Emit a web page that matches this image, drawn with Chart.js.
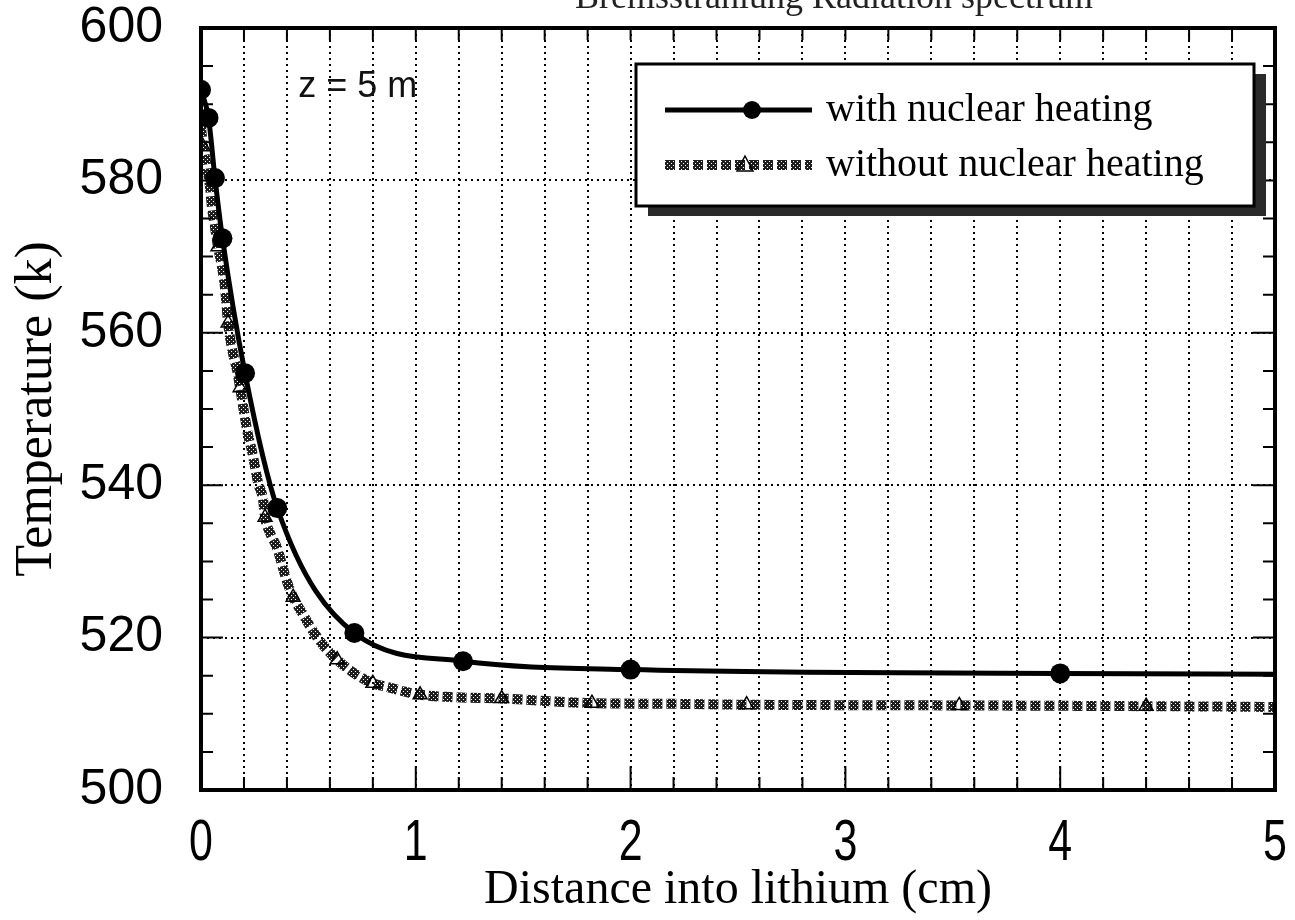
<!DOCTYPE html>
<html>
<head>
<meta charset="utf-8">
<script src="https://cdn.jsdelivr.net/npm/chart.js@4.4.1/dist/chart.umd.min.js"></script>
<style>
  html, body { margin: 0; padding: 0; background: #fff; }
  #wrap { position: relative; width: 1295px; height: 920px; overflow: hidden; }
  #topnote { position: absolute; left: 575px; top: -22px; font: 36px 'Liberation Serif', serif; line-height: 36px; color: #222; white-space: nowrap; z-index: 2; }
</style>
</head>
<body>
<div id="wrap">
  <div id="topnote">Bremsstrahlung Radiation spectrum</div>
  <canvas id="tempChart"></canvas>
</div>
<script>
// with nuclear heating (solid line, filled circles)
const withX = [0, 0.035, 0.065, 0.1, 0.205, 0.355, 0.714, 1.22, 2.0, 4.0, 5.0];
const withT = [591.9, 588.2, 580.3, 572.4, 554.7, 537.0, 520.6, 516.9, 515.8, 515.3, 515.2];

// without nuclear heating (hatched squares)
const withoutX = [0, 0.01, 0.028, 0.042, 0.051, 0.065, 0.079, 0.098, 0.112, 0.126, 0.149, 0.168, 0.182,
  0.205, 0.219, 0.238, 0.252, 0.266, 0.289, 0.298, 0.322, 0.354, 0.378, 0.401, 0.429, 0.476, 0.518,
  0.569, 0.634, 0.704, 0.80, 0.87, 0.95, 1.02, 1.16, 1.40, 1.82, 2.23, 2.5, 3.5, 4.4, 5.0];
const withoutT = [587.0, 584.4, 581.8, 579.1, 576.5, 573.9, 571.3, 568.6, 565.9, 561.3, 557.3, 555.1, 552.8,
  548.8, 546.6, 544.4, 542.3, 540.3, 538.1, 535.8, 533.7, 531.8, 529.5, 527.3, 525.3, 523.0, 521.0,
  519.0, 517.1, 515.5, 514.0, 513.5, 512.9, 512.5, 512.2, 512.0, 511.4, 511.3, 511.2, 511.1, 511.0, 510.9];

// the open triangles scattered along the "without" curve
const triX = [0.01, 0.079, 0.126, 0.182, 0.298, 0.429, 0.634, 0.80, 1.02, 1.40, 1.82, 2.54, 3.53, 4.40];
const triT = [584.4, 571.3, 561.3, 552.8, 535.8, 525.3, 517.1, 514.0, 512.5, 512.0, 511.4, 511.2, 511.1, 511.0];

const xTickStep = 0.2;
const yTickStep = 5;
const yLabelEvery = 20;

function hatch() {
  const c = document.createElement('canvas');
  c.width = 4; c.height = 4;
  const g = c.getContext('2d');
  g.fillStyle = '#1e1e1e';
  g.fillRect(0, 0, 4, 4);
  g.fillStyle = '#fff';
  g.fillRect(1, 1, 1, 1);
  g.fillRect(3, 3, 1, 1);
  return g.createPattern(c, 'repeat');
}
const hatchPattern = hatch();

const pts = (xs, ys) => xs.map((x, i) => ({ x: x, y: ys[i] }));
const isInt = v => Math.abs(v - Math.round(v)) < 1e-6;

// frame, inward tick marks, x tick labels (narrow), annotation
const frame = {
  id: 'frame',
  afterDatasetsDraw(chart) {
    const { ctx, chartArea: a, scales } = chart;
    ctx.save();
    ctx.strokeStyle = '#000';
    ctx.lineWidth = 2;
    ctx.beginPath();
    scales.y.ticks.forEach(t => {
      const py = scales.y.getPixelForValue(t.value);
      const len = t.value % yLabelEvery === 0 ? 22 : 12;
      ctx.moveTo(a.left, py); ctx.lineTo(a.left + len, py);
      ctx.moveTo(a.right, py); ctx.lineTo(a.right - len, py);
    });
    scales.x.ticks.forEach(t => {
      const px = scales.x.getPixelForValue(t.value);
      ctx.moveTo(px, a.bottom); ctx.lineTo(px, a.bottom - (isInt(t.value) ? 24 : 13));
      ctx.moveTo(px, a.top); ctx.lineTo(px, a.top + 12);
    });
    ctx.stroke();
    ctx.lineWidth = 4;
    ctx.strokeRect(a.left, a.top, a.right - a.left, a.bottom - a.top);

    ctx.fillStyle = '#000';
    ctx.font = "58px 'Liberation Sans', Arial, sans-serif";
    ctx.textAlign = 'center';
    ctx.textBaseline = 'middle';
    scales.x.ticks.forEach(t => {
      if (!isInt(t.value)) return;
      ctx.save();
      ctx.translate(scales.x.getPixelForValue(t.value), a.bottom + 54);
      ctx.scale(0.74, 1);
      ctx.fillText(String(Math.round(t.value)), 0, 0);
      ctx.restore();
    });

    ctx.fillStyle = '#111';
    ctx.font = "36px 'Liberation Sans', Arial, sans-serif";
    ctx.fillText('z = 5 m', scales.x.getPixelForValue(0.73), scales.y.getPixelForValue(592.3));
    ctx.restore();
  }
};

// boxed legend with drop shadow
const legendBox = {
  id: 'legendBox',
  afterDraw(chart) {
    const ctx = chart.ctx;
    const x = 636, y = 64, w = 618, h = 142;
    ctx.save();
    ctx.fillStyle = '#2a2a2a';
    ctx.fillRect(x + 12, y + 10, w, h);
    ctx.fillStyle = '#fff';
    ctx.fillRect(x, y, w, h);
    ctx.lineWidth = 3;
    ctx.strokeStyle = '#000';
    ctx.strokeRect(x, y, w, h);

    const y1 = y + 46, y2 = y + 101;
    ctx.lineWidth = 5;
    ctx.beginPath(); ctx.moveTo(x + 29, y1); ctx.lineTo(x + 176, y1); ctx.stroke();
    ctx.fillStyle = '#000';
    ctx.beginPath(); ctx.arc(x + 116, y1, 9, 0, Math.PI * 2); ctx.fill();

    ctx.strokeStyle = hatchPattern;
    ctx.lineWidth = 10;
    ctx.setLineDash([10, 4]);
    ctx.beginPath(); ctx.moveTo(x + 29, y2); ctx.lineTo(x + 176, y2); ctx.stroke();
    ctx.setLineDash([]);
    ctx.strokeStyle = '#000';
    ctx.lineWidth = 1.5;
    ctx.beginPath();
    ctx.moveTo(x + 109, y2 - 9); ctx.lineTo(x + 117, y2 + 6); ctx.lineTo(x + 101, y2 + 6); ctx.closePath();
    ctx.stroke();

    ctx.fillStyle = '#000';
    ctx.font = "40px 'Liberation Serif', 'Times New Roman', serif";
    ctx.textAlign = 'left';
    ctx.textBaseline = 'middle';
    ctx.fillText('with nuclear heating', x + 190, y1);
    ctx.fillText('without nuclear heating', x + 190, y2);
    ctx.restore();
  }
};

const ctxTemp = document.getElementById('tempChart').getContext('2d');

const tempChart = new Chart(ctxTemp, {
  type: 'line',
  data: {
    datasets: [{
      label: 'with nuclear heating',
      data: pts(withX, withT),
      borderColor: '#000',
      borderWidth: 5,
      pointRadius: ctx => ctx.dataIndex === withX.length - 1 ? 0 : 10,
      pointBackgroundColor: '#000',
      pointBorderWidth: 0,
      cubicInterpolationMode: 'monotone',
      fill: false,
    }, {
      label: 'triangles',
      data: pts(triX, triT),
      showLine: false,
      pointStyle: 'triangle',
      pointRadius: 8,
      pointBorderColor: '#000',
      pointBorderWidth: 1.5,
      pointBackgroundColor: 'rgba(0,0,0,0)',
    }, {
      label: 'without nuclear heating',
      data: pts(withoutX, withoutT),
      borderColor: hatchPattern,
      borderWidth: 10,
      borderDash: [10, 4],
      borderCapStyle: 'butt',
      pointRadius: 0,
      cubicInterpolationMode: 'monotone',
      fill: false,
    }]
  },
  options: {
    responsive: true,
    maintainAspectRatio: false,
    animation: false,
    events: [],
    layout: { padding: { top: 28, right: 20, left: 0, bottom: 0 } },
    plugins: {
      legend: { display: false },
      tooltip: { enabled: false },
    },
    scales: {
      x: {
        type: 'linear',
        min: 0,
        max: 5,
        afterFit: s => { s.height = 130; s.paddingLeft = 0; s.paddingRight = 0; },
        ticks: { stepSize: xTickStep, autoSkip: false, display: false },
        grid: { color: '#000', lineWidth: 2, drawTicks: false },
        border: { display: false, dash: [2, 4] },
        title: {
          display: true,
          text: 'Distance into lithium (cm)',
          color: '#000',
          font: { family: "'Liberation Serif', 'Times New Roman', serif", size: 48, lineHeight: 1 },
          padding: { top: 0, bottom: 6 },
        }
      },
      y: {
        min: 500,
        max: 600,
        afterFit: s => { s.width = 201; s.paddingTop = 0; s.paddingBottom = 0; },
        ticks: {
          stepSize: yTickStep,
          autoSkip: false,
          padding: 38,
          color: '#000',
          font: { family: "'Liberation Sans', Arial, sans-serif", size: 50 },
          callback: v => v % yLabelEvery === 0 ? String(v) : '',
        },
        grid: {
          color: c => (c.tick && c.tick.value % yLabelEvery === 0) ? '#000' : 'rgba(0,0,0,0)',
          lineWidth: 2,
          drawTicks: false,
        },
        border: { display: false, dash: [2, 4] },
        title: {
          display: true,
          text: 'Temperature (k)',
          color: '#000',
          font: { family: "'Liberation Serif', 'Times New Roman', serif", size: 52 },
          padding: { top: 6, bottom: 0 },
        }
      }
    }
  },
  plugins: [frame, legendBox]
});
</script>
</body>
</html>
